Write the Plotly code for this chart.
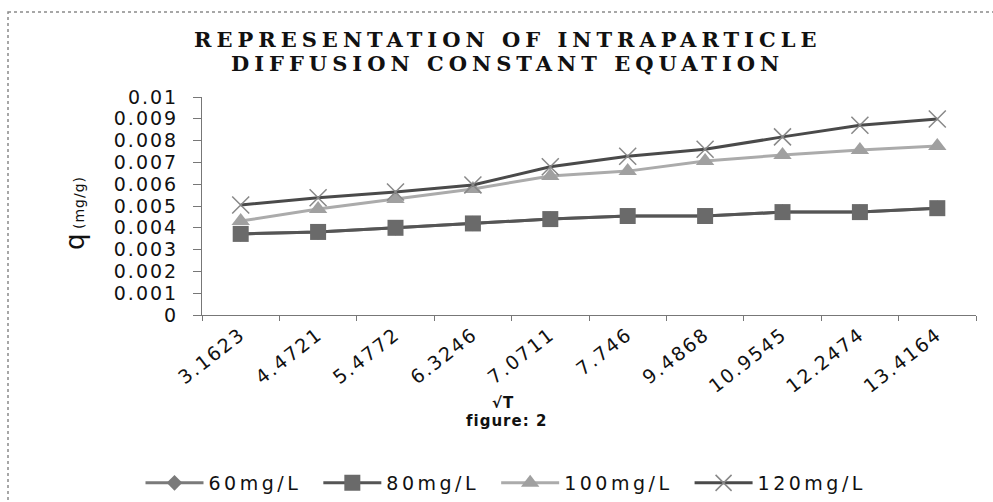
import plotly.graph_objects as go

categories = ["3.1623", "4.4721", "5.4772", "6.3246", "7.0711", "7.746",
              "9.4868", "10.9545", "12.2474", "13.4164"]
q_60 = [0.00372, 0.00381, 0.00400, 0.00420, 0.00440, 0.00454, 0.00454, 0.00472, 0.00472, 0.00490]
q_80 = [0.00372, 0.00381, 0.00400, 0.00420, 0.00440, 0.00454, 0.00454, 0.00472, 0.00472, 0.00490]
q_100 = [0.00431, 0.00486, 0.00532, 0.00578, 0.00638, 0.00660, 0.00706, 0.00734, 0.00757, 0.00775]
q_120 = [0.00505, 0.00538, 0.00564, 0.00596, 0.00680, 0.00728, 0.00760, 0.00817, 0.00870, 0.00899]
y_ticks = [0, 0.001, 0.002, 0.003, 0.004, 0.005, 0.006, 0.007, 0.008, 0.009, 0.01]
y_tick_labels = ["0", "0.001", "0.002", "0.003", "0.004", "0.005", "0.006",
                 "0.007", "0.008", "0.009", "0.01"]
series_names = ["60mg/L", "80mg/L", "100mg/L", "120mg/L"]

L, R, T, B = 202, 17, 97, 187
W, H = 993, 502
PW, PH = W - L - R, H - T - B


def px(x):
    return (x - L) / PW


def py(y):
    return (H - B - y) / PH


def sp(text, ls):
    return f"<span style='letter-spacing:{ls}px'>{text}</span>"


def legname(text):
    return sp(text, 3.5) + "&nbsp;&nbsp;"


fig = go.Figure()
fig.add_trace(go.Scatter(x=categories, y=q_60, name=legname(series_names[0]), mode="lines+markers",
                         line=dict(color="#7a7a7a", width=3),
                         marker=dict(symbol="diamond", size=12, color="#7a7a7a")))
fig.add_trace(go.Scatter(x=categories, y=q_80, name=legname(series_names[1]), mode="lines+markers",
                         line=dict(color="#555555", width=3),
                         marker=dict(symbol="square", size=16, color="#6a6a6a")))
fig.add_trace(go.Scatter(x=categories, y=q_100, name=legname(series_names[2]), mode="lines+markers",
                         line=dict(color="#ababab", width=3),
                         marker=dict(symbol="triangle-up", size=16, color="#a0a0a0")))
fig.add_trace(go.Scatter(x=categories, y=q_120, name=legname(series_names[3]), mode="lines+markers",
                         line=dict(color="#4a4a4a", width=3),
                         marker=dict(symbol="x-thin", size=17, color="#888888",
                                     line=dict(color="#888888", width=1.5))))

tick_font = dict(family="DejaVu Sans", size=19, color="#111111")

fig.update_layout(
    width=W, height=H,
    margin=dict(l=L, r=R, t=T, b=B, autoexpand=False),
    paper_bgcolor="white", plot_bgcolor="white",
    showlegend=True,
    legend=dict(orientation="h", xref="container", yref="container",
                x=512 / W, y=(H - 483) / H, xanchor="center", yanchor="middle",
                font=dict(family="DejaVu Sans", size=19, color="#111111"),
                itemwidth=58, bgcolor="rgba(0,0,0,0)"),
    xaxis=dict(type="category", range=[-0.5, 9.5], showgrid=False, zeroline=False,
               showline=True, linecolor="#777777", linewidth=1, automargin=False,
               ticks="outside", ticklen=5, tickcolor="#777777", tickson="boundaries",
               tickvals=categories, ticktext=[sp(c, 2) for c in categories],
               tickangle=-38, tickfont=tick_font),
    yaxis=dict(range=[0, 0.01], showgrid=False, zeroline=False,
               showline=True, linecolor="#777777", linewidth=1, automargin=False,
               ticks="outside", ticklen=8, tickcolor="#777777",
               tickvals=y_ticks, ticktext=[sp(t, 2) for t in y_tick_labels],
               tickfont=tick_font, ticklabelstandoff=11),
)

title_font = dict(family="DejaVu Serif", size=21, color="#111111", weight="bold")
ann = [
    dict(text=sp("REPRESENTATION OF INTRAPARTICLE", 5), x=px(507), y=py(39), font=title_font),
    dict(text=sp("DIFFUSION CONSTANT EQUATION", 5), x=px(507), y=py(64), font=title_font),
    dict(text=sp("√T", 1), x=px(503), y=py(403),
         font=dict(family="DejaVu Sans", size=15, color="#111111", weight="bold")),
    dict(text=sp("figure: 2", 1), x=px(506), y=py(421),
         font=dict(family="DejaVu Sans", size=15, color="#111111", weight="bold")),
    dict(text="<span style='font-size:26px'>q</span> " + sp("(mg/g)", 1), x=px(75), y=py(213),
         textangle=-90, font=dict(family="DejaVu Sans", size=14, color="#111111")),
]
for a in ann:
    a.update(xref="paper", yref="paper", showarrow=False, xanchor="center", yanchor="middle")
fig.update_layout(annotations=ann)

fig.add_shape(type="rect", xref="paper", yref="paper",
              x0=px(8), x1=px(1010), y0=py(12), y1=py(520),
              line=dict(color="#8a8a8a", width=1.5, dash="dot"), layer="below")

fig.write_html("out.html", config={"displayModeBar": False},
               post_script="document.body.style.margin='0';")
